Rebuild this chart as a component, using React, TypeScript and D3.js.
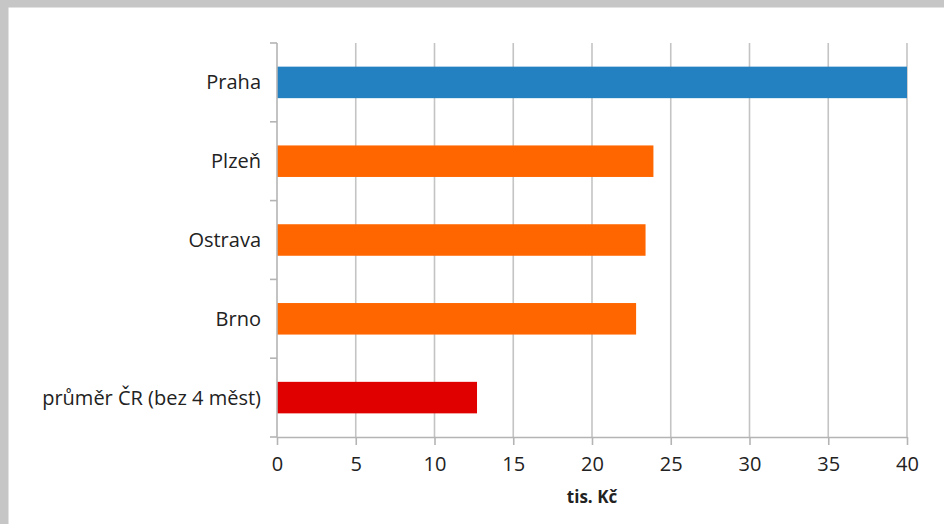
import React, { useEffect, useRef } from 'react';
import * as d3 from 'd3';

const categories = ['Praha', 'Plzeň', 'Ostrava', 'Brno', 'průměr ČR (bez 4 měst)'];
const values = [40, 23.9, 23.4, 22.8, 12.7];
const barColors = ['#2481c1', '#ff6600', '#ff6600', '#ff6600', '#e00000'];
const xTicks = [0, 5, 10, 15, 20, 25, 30, 35, 40];
const xTitle = 'tis. Kč';

const width = 944;
const height = 524;

const App: React.FC = () => {
  const svgRef = useRef<SVGSVGElement>(null);

  useEffect(() => {
    if (!svgRef.current) return;
    const svg = d3.select(svgRef.current);
    svg.selectAll('*').remove();

    const font = '"Open Sans", sans-serif';
    const plot = { left: 277, right: 907, top: 43, bottom: 437 };

    // rámeček
    svg.append('rect').attr('width', width).attr('height', height).attr('fill', '#fff');
    svg.append('rect').attr('width', width).attr('height', 7.5).attr('fill', '#c6c6c6');
    svg.append('rect').attr('width', 8.5).attr('height', height).attr('fill', '#c6c6c6');

    const x = d3.scaleLinear().domain([0, 40]).range([plot.left, plot.right]);
    const y = d3.scaleBand<string>()
      .domain(categories)
      .range([plot.top, plot.bottom])
      .paddingInner(0.6)
      .paddingOuter(0.3);

    // mřížka
    svg.append('g')
      .selectAll('line')
      .data(xTicks.slice(1))
      .join('line')
      .attr('x1', d => x(d))
      .attr('x2', d => x(d))
      .attr('y1', plot.top)
      .attr('y2', plot.bottom)
      .attr('stroke', '#c4c4c4')
      .attr('stroke-width', 1.6);

    // sloupce
    svg.append('g')
      .selectAll('rect')
      .data(categories)
      .join('rect')
      .attr('x', x(0))
      .attr('y', d => y(d)!)
      .attr('width', (_, i) => x(values[i]) - x(0))
      .attr('height', y.bandwidth())
      .attr('fill', (_, i) => barColors[i]);

    // osa X
    const xAxis = svg.append('g')
      .attr('transform', `translate(0,${plot.bottom})`)
      .call(d3.axisBottom(x).tickValues(xTicks).tickSize(8).tickPadding(12).tickSizeOuter(0));
    xAxis.select('.domain').attr('stroke', '#b4b4b4').attr('stroke-width', 1.6);
    xAxis.selectAll('.tick line').attr('stroke', '#b4b4b4').attr('stroke-width', 1.6);
    xAxis.selectAll('.tick text')
      .attr('fill', '#222')
      .attr('font-family', font)
      .attr('font-size', 20);

    // osa Y
    const step = y.step();
    const boundaries = d3.range(categories.length + 1).map(i => plot.top + i * step);
    svg.append('line')
      .attr('x1', plot.left).attr('x2', plot.left)
      .attr('y1', plot.top).attr('y2', plot.bottom)
      .attr('stroke', '#b4b4b4').attr('stroke-width', 1.6);
    svg.append('g')
      .selectAll('line')
      .data(boundaries)
      .join('line')
      .attr('x1', plot.left - 7)
      .attr('x2', plot.left)
      .attr('y1', d => d)
      .attr('y2', d => d)
      .attr('stroke', '#b4b4b4')
      .attr('stroke-width', 1.6);

    svg.append('g')
      .selectAll('text')
      .data(categories)
      .join('text')
      .attr('x', plot.left - 16)
      .attr('y', d => y(d)! + y.bandwidth() / 2)
      .attr('dy', '0.35em')
      .attr('text-anchor', 'end')
      .attr('fill', '#222')
      .attr('font-family', font)
      .attr('font-size', 20)
      .text(d => d);

    svg.append('text')
      .attr('x', (plot.left + plot.right) / 2)
      .attr('y', 503)
      .attr('text-anchor', 'middle')
      .attr('fill', '#222')
      .attr('font-family', font)
      .attr('font-weight', 'bold')
      .attr('font-size', 17)
      .text(xTitle);
  }, []);

  return (
    <svg
      ref={svgRef}
      width={width}
      height={height}
      style={{ position: 'absolute', left: 0, top: 0, display: 'block' }}
    />
  );
};

export default App;
